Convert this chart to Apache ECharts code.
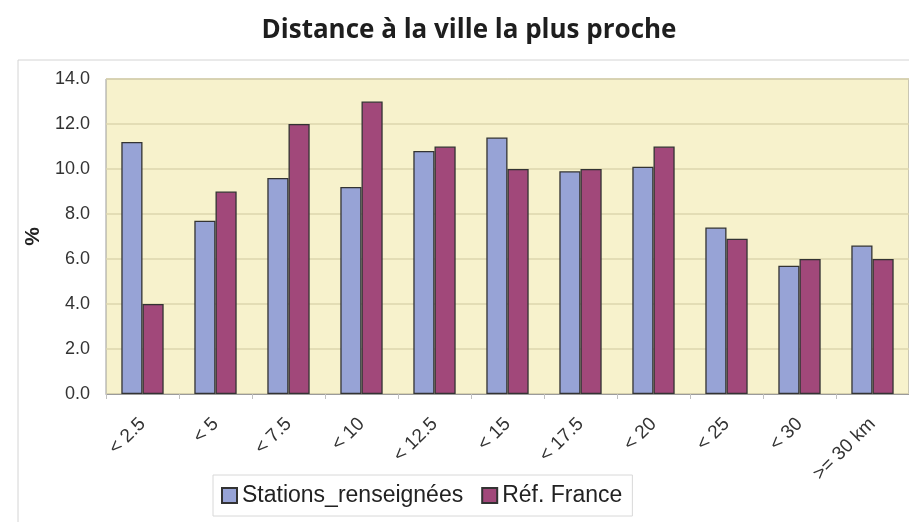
<!DOCTYPE html>
<html>
<head>
<meta charset="utf-8">
<script src="https://cdn.jsdelivr.net/npm/echarts@6/dist/echarts.min.js"></script>
<style>
  html, body { margin: 0; padding: 0; background: #fff; }
  #chart { width: 909px; height: 522px; }
</style>
</head>
<body>
<div id="chart"></div>
<script>
// categories and values
var categories = ["< 2.5", "< 5", "< 7.5", "< 10", "< 12.5", "< 15", "< 17.5", "< 20", "< 25", "< 30", ">= 30 km"];
var stations = [11.2, 7.7, 9.6, 9.2, 10.8, 11.4, 9.9, 10.1, 7.4, 5.7, 6.6];
var refFrance = [4.0, 9.0, 12.0, 13.0, 11.0, 10.0, 10.0, 11.0, 6.9, 6.0, 6.0];

var chart = echarts.init(document.getElementById("chart"));
chart.setOption({
  animation: false,
  title: {
    text: "Distance à la ville la plus proche",
    left: 464,
    top: 13,
    textAlign: "center",
    textStyle: { fontFamily: "Open Sans", fontWeight: "bold", fontSize: 26, color: "#1e1e1e" }
  },
  graphic: [
    {
      type: "rect",
      shape: { x: 18, y: 60, width: 900, height: 470 },
      style: { fill: "none", stroke: "#d4d4d4", lineWidth: 1 },
      z: -1
    }
  ],
  legend: {
    left: 213,
    top: 475,
    icon: "rect",
    itemWidth: 15,
    itemHeight: 15,
    itemGap: 18,
    padding: [9, 10, 9, 8],
    borderColor: "#d8d8d8",
    borderWidth: 1,
    textStyle: { fontFamily: "Liberation Sans", fontSize: 23, color: "#222" },
    data: ["Stations_renseignées", "Réf. France"]
  },
  grid: {
    left: 106,
    right: 0,
    top: 79,
    bottom: 128,
    show: true,
    backgroundColor: "#f7f2cc",
    borderColor: "#9b9b9b",
    borderWidth: 1
  },
  xAxis: {
    type: "category",
    data: categories,
    axisLine: { lineStyle: { color: "#9b9b9b" } },
    axisTick: { show: true, length: 5, lineStyle: { color: "#c0c0c0" } },
    axisLabel: {
      rotate: 45,
      interval: 0,
      margin: 27,
      fontFamily: "Liberation Sans",
      fontSize: 19,
      color: "#333"
    }
  },
  yAxis: {
    type: "value",
    min: 0,
    max: 14,
    interval: 2,
    name: "%",
    nameLocation: "middle",
    nameGap: 62,
    nameRotate: 90,
    nameTextStyle: { fontFamily: "Liberation Sans", fontWeight: "bold", fontSize: 21, color: "#222" },
    axisLine: { show: false },
    axisTick: { show: false },
    axisLabel: {
      margin: 16,
      fontFamily: "Liberation Sans",
      fontSize: 18,
      color: "#333",
      formatter: function (v) { return v.toFixed(1); }
    },
    splitLine: { lineStyle: { color: "#ddd6ae", width: 1.5 } }
  },
  series: [
    {
      name: "Stations_renseignées",
      type: "bar",
      data: stations,
      barGap: "0%",
      barCategoryGap: "42%",
      itemStyle: { color: "#97a3d6", borderColor: "#333", borderWidth: 1.3 }
    },
    {
      name: "Réf. France",
      type: "bar",
      data: refFrance,
      itemStyle: { color: "#a1487a", borderColor: "#333", borderWidth: 1.3 }
    }
  ]
});
</script>
</body>
</html>
